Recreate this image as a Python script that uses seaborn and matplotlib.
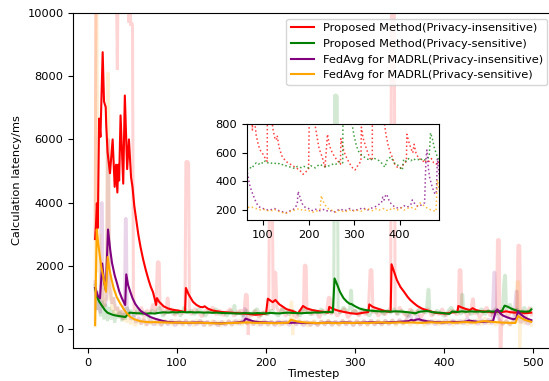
import matplotlib
matplotlib.use("Agg")
import matplotlib.pyplot as plt
import seaborn as sns
import pandas as pd

plt.rcParams['font.family'] = ['DejaVu Sans']
plt.rcParams['font.size'] = 8.2

# ---------------- smoothed series (x, y) ----------------
red_x = [8, 9, 10, 11, 12.5, 14, 16.5, 18, 19.9, 20.5, 22, 24.7, 27.7, 30, 31.5, 33, 34, 35, 36.6, 39.6, 41.4, 44, 46, 48.4,
         50, 52, 54, 56.5, 59, 62, 65, 68, 70.5, 73, 75, 76.5, 77.5, 80, 85, 90, 95, 100, 105, 109, 110, 113, 118, 122, 126,
         129, 131, 135, 141, 150, 160, 170, 180, 188, 195, 200, 202, 205, 207.5, 210.5, 215, 223, 230, 236, 241.5, 246, 252,
         260, 265, 270, 271, 275, 280, 286, 295, 302, 310, 315, 316, 320, 328, 335, 340, 341, 344, 347, 351, 355, 359, 362,
         366, 370, 375, 380, 385, 390, 395, 400, 405, 410, 415, 416, 420, 425, 429, 432, 436, 442, 450, 455, 460, 465, 470,
         475, 480, 485, 490, 495, 498]
red_y = [2850, 3300, 3980, 3200, 6660, 6080, 8760, 7200, 7020, 6450, 5600, 4930, 6000, 4500, 5200, 4320, 5200, 4700, 6760,
         4600, 7390, 5060, 6000, 4800, 4500, 3900, 3500, 3000, 2600, 2200, 1860, 1560, 1340, 1170, 950, 760, 980, 860, 720,
         650, 610, 590, 560, 540, 1300, 1100, 860, 760, 700, 690, 720, 640, 580, 540, 520, 500, 480, 450, 470, 490, 960, 900,
         850, 920, 780, 630, 570, 495, 730, 650, 600, 560, 540, 520, 700, 640, 590, 550, 500, 480, 520, 540, 780, 700, 620,
         560, 550, 2050, 1800, 1550, 1330, 1180, 1020, 920, 820, 730, 650, 600, 560, 515, 500, 490, 500, 530, 540, 730, 680,
         630, 600, 660, 600, 560, 550, 530, 550, 540, 560, 530, 520, 540, 500, 510, 520]

green_x = [8, 10, 13, 16, 19, 22, 26, 29, 35, 40, 42, 44, 47, 50, 55, 60, 65, 70, 75, 80, 85, 90, 95, 100, 105, 110, 115,
           120, 125, 130, 135, 140, 145, 150, 155, 160, 165, 170, 175, 180, 185, 190, 195, 200, 205, 210, 215, 220, 225,
           230, 235, 240, 245, 250, 255, 260, 265, 270, 275, 277, 280, 283, 287, 291, 294, 296, 300, 305, 310, 315, 320,
           325, 330, 335, 340, 345, 350, 355, 360, 365, 368, 372, 376, 380, 383, 388, 393, 398, 403, 406, 409, 415, 420,
           425, 430, 435, 440, 445, 450, 455, 460, 465, 468, 472, 476, 480, 484, 488, 492, 496, 498]
green_y = [1290, 1020, 850, 725, 600, 515, 470, 440, 410, 390, 380, 440, 520, 510, 500, 495, 485, 500, 490, 515, 530, 520,
           535, 525, 545, 530, 535, 525, 530, 520, 525, 515, 520, 510, 505, 500, 495, 490, 505, 500, 495, 505, 500, 495,
           510, 500, 495, 510, 520, 510, 505, 500, 510, 515, 525, 520, 535, 540, 530, 1600, 1400, 1180, 980, 860, 800, 790,
           720, 650, 610, 590, 575, 565, 555, 560, 550, 560, 555, 545, 530, 510, 500, 545, 560, 570, 560, 530, 520, 510,
           490, 480, 555, 540, 560, 545, 560, 550, 555, 545, 560, 550, 560, 570, 740, 700, 640, 600, 560, 555, 550, 560, 620]

purple_x = [8, 9.5, 11, 13.5, 16, 18, 20, 22.5, 25, 27, 30, 32.6, 35, 38, 41.8, 43, 45, 47.5, 50, 53, 56, 59, 63, 66.6, 70,
            75, 80, 85, 90, 95, 100, 105, 110, 115, 120, 125, 130, 135, 140, 145, 150, 155, 160, 165, 170, 175, 177, 180,
            184, 188, 192, 196, 200, 205, 210, 215, 220, 225, 230, 235, 240, 245, 250, 255, 260, 265, 270, 275, 280, 285,
            290, 295, 300, 305, 310, 315, 320, 325, 330, 335, 340, 345, 350, 355, 360, 363, 366, 369, 372, 375, 378, 382,
            386, 390, 395, 400, 405, 410, 415, 420, 425, 428, 432, 436, 440, 445, 450, 455, 458, 460, 463, 466, 470, 474,
            478, 481, 483, 486, 490, 494, 498]
purple_y = [1300, 1200, 1050, 970, 2075, 1500, 1230, 3150, 2500, 2090, 1700, 1450, 1200, 980, 760, 1730, 1400, 1180, 980,
            800, 680, 580, 500, 440, 380, 330, 290, 250, 225, 215, 210, 205, 200, 200, 205, 210, 200, 195, 190, 185, 180,
            190, 195, 200, 215, 240, 330, 300, 260, 230, 220, 215, 210, 200, 195, 205, 200, 195, 200, 205, 195, 190, 195,
            185, 190, 200, 205, 200, 195, 205, 210, 200, 195, 200, 205, 210, 215, 205, 200, 210, 215, 220, 230, 240, 250,
            290, 270, 300, 310, 280, 260, 240, 230, 220, 215, 210, 220, 230, 220, 225, 240, 270, 250, 235, 225, 230, 240,
            250, 560, 620, 500, 430, 380, 340, 310, 330, 560, 470, 380, 320, 280]

orange_x = [8, 9.8, 11.5, 13.5, 15, 17.2, 20.2, 22.1, 24, 26.6, 29, 32.2, 36, 39.7, 43, 47.2, 52, 58.4, 65, 70, 75, 80, 85,
            90, 95, 100, 105, 110, 115, 120, 125, 130, 135, 140, 145, 150, 155, 160, 165, 170, 175, 180, 185, 190, 195, 200,
            205, 210, 215, 220, 225, 228, 231, 235, 240, 245, 250, 255, 260, 265, 270, 275, 280, 285, 290, 295, 300, 305,
            310, 315, 320, 325, 330, 335, 340, 345, 350, 355, 360, 365, 370, 375, 380, 385, 390, 395, 400, 405, 410, 415,
            420, 425, 430, 435, 440, 445, 450, 455, 460, 465, 470, 475, 480, 483, 486, 490, 494, 498]
orange_y = [125, 3150, 2700, 2280, 1950, 1650, 1180, 2280, 1900, 1550, 1280, 1020, 820, 650, 520, 390, 310, 250, 225, 215,
            220, 215, 210, 205, 200, 205, 200, 195, 200, 195, 205, 195, 190, 185, 180, 175, 185, 190, 195, 200, 205, 210,
            200, 195, 200, 195, 190, 185, 190, 195, 200, 300, 270, 240, 220, 205, 200, 190, 185, 195, 200, 190, 185, 195,
            200, 190, 195, 200, 195, 190, 200, 205, 210, 200, 195, 205, 210, 200, 205, 210, 200, 195, 205, 215, 205, 200,
            210, 215, 200, 205, 215, 220, 210, 205, 230, 250, 240, 225, 215, 205, 200, 195, 190, 410, 360, 300, 260, 230]

# ---------------- raw series (x, y) ----------------
red_raw_x = list(range(8, 53)) + [
    56, 60, 63, 66, 70, 73, 76, 78, 79, 80, 81, 83, 86, 88, 89, 90, 91, 95, 98, 102, 106, 109, 110, 111, 112, 113, 114,
    116, 120, 124, 128, 132, 136, 140, 144, 148, 152, 156, 160, 164, 168, 172, 175, 177, 178, 179, 180, 181, 184, 188,
    192, 196, 200, 203, 204, 205, 206, 207, 208, 209, 210, 211, 212, 214, 218, 222, 226, 230, 234, 238, 242, 243, 244,
    245, 246, 248, 252, 256, 260, 264, 268, 270, 271, 272, 273, 276, 280, 284, 288, 292, 296, 300, 304, 308, 312, 315,
    317, 318, 319, 320, 322, 326, 330, 334, 338, 340, 341, 342, 343, 344, 345, 347, 350, 354, 358, 362, 366, 370, 374,
    378, 382, 386, 390, 394, 398, 402, 406, 410, 414, 416, 417, 418, 419, 420, 422, 426, 430, 432, 433, 434, 436, 440,
    444, 448, 452, 456, 459, 460, 461, 462, 463, 464, 465, 468, 472, 476, 480, 482, 483, 484, 485, 486, 488, 492, 496, 498]
red_raw_y = [2850, 11000, 10500, 13000, 10500, 14000, 11500, 12000, 15000, 11000, 13000, 10800, 12500, 14000, 10500, 12000,
             11000, 13000, 11500, 14000, 10600, 12000, 10800, 13500, 11000, 8200, 12000, 14000, 11000, 13000, 10500, 12000,
             10800, 14000, 11500, 13000, 10900, 12000, 9700, 11000, 9600, 9700, 9600, 1200, 600,
             450, 700, 380, 600, 520, 800, 500, 2130, 2130, 2100, 600, 700, 450, 600, 980, 980, 500, 650, 420, 600, 480,
             550, 5300, 5300, 5300, 5250, 600, 450, 650, 520, 380, 600, 500, 700, 450, 600, 420, 550, 650, 400, 550, 600,
             450, 1100, 1100, 1050, -190, 500, 400, 600, 350, 550, 450, 500, 5000, 5000, 5000, 4950, 600, 1800, 1800, 1780,
             700, 550, 650, 400, 600, 500, 350, 600, 500, 2020, 2020, 2000, 550, 650, 450, 550, 350, 600, 500, 1000, 1000,
             980, 450, 600, 400, 550, 650, 350, 500, 600, 400, 550, 450, 600, 1880, 1880, 1860, 500, 650, 400, 550, 450,
             600, 700, 11000, 11000, 11000, 11000, 600, 450, 700, 500, 400, 650, 450, 600, 350, 550, 650, 400, 550, 450,
             650, 400, 550, 600, 450, 500, 1880, 1880, 1860, 500, 650, 400, 550, 960, 950, 450, 600, 350, 550, 700, 400,
             600, 450, 2830, 2830, 2830, -700, -700, 500, 600, 350, 650, 450, 500, 2650, 2650, 2650, 400, 600, 350, 700,
             450]

green_raw_x = [8, 10, 12, 14, 16, 18, 20, 22, 24, 26, 28, 30, 32, 34, 36, 38, 40, 42, 44, 46, 48, 52, 56, 60, 64, 68, 72,
               76, 80, 84, 88, 92, 96, 100, 104, 108, 112, 116, 120, 124, 128, 132, 136, 140, 144, 148, 152, 156, 160,
               163, 164, 165, 166, 170, 174, 178, 182, 186, 190, 194, 198, 202, 206, 210, 214, 218, 222, 226, 230, 234,
               238, 242, 246, 250, 254, 258, 262, 266, 270, 274, 276, 277, 278, 279, 280, 281, 283, 287, 291, 294, 295,
               296, 297, 300, 304, 308, 312, 316, 320, 324, 328, 332, 336, 340, 344, 348, 352, 356, 360, 364, 368, 372,
               376, 380, 382, 383, 384, 388, 392, 396, 400, 404, 408, 412, 416, 419, 420, 421, 422, 426, 430, 434, 438,
               442, 446, 450, 454, 458, 462, 466, 467, 468, 469, 470, 474, 478, 482, 486, 490, 494, 498]
green_raw_y = [1400, 600, 1100, 400, 900, 300, 800, 250, 700, 300, 600, 200, 500, 350, 550, 250, 500, 300, 700, 450, 600,
               400, 650, 450, 550, 350, 600, 500, 700, 400, 550, 650, 450, 600, 400, 700, 500, 600, 450, 650, 550, 400,
               600, 500, 650, 450, 550, 400, 600, 500, 750, 750, 450, 550, 400, 600, 450, 550, 650, 400, 550, 450, 600,
               500, 400, 650, 550, 450, 600, 500, 400, 650, 550, 450, 600, 500, 650, 450, 600, 500, 700, 7400, 7400,
               7400, 7350, 600, 500, 700, 550, 650, 1230, 1230, 500, 600, 450, 650, 550, 400, 600, 500, 650, 450, 600,
               500, 650, 450, 600, 500, 400, 600, 450, 650, 550, 500, 1260, 1260, 600, 450, 600, 500, 400, 550, 700, 500,
               600, 450, 1100, 1100, 500, 650, 450, 600, 500, 650, 450, 600, 500, 650, 450, 700, 1400, 1700, 1700, 600,
               800, 500, 650, 450, 700, 500, 650]

orange_raw_x = list(range(8, 31)) + [
    32, 34, 36, 38, 40, 42, 44, 46, 48, 50, 53, 56, 59, 62, 65, 68, 71, 74, 77, 80, 83, 86, 89, 92, 95, 98, 101, 104,
    107, 110, 113, 116, 119, 122, 125, 128, 131, 134, 137, 140, 143, 146, 149, 152, 155, 158, 161, 164, 167, 170, 173,
    176, 179, 182, 185, 188, 191, 194, 197, 200, 203, 206, 209, 212, 215, 218, 221, 224, 227, 228, 229, 230, 231, 234,
    237, 240, 243, 246, 250, 254, 258, 262, 266, 270, 274, 278, 282, 286, 290, 294, 298, 302, 306, 310, 314, 318, 322,
    326, 330, 334, 338, 342, 346, 350, 354, 358, 362, 366, 370, 374, 378, 382, 386, 390, 394, 398, 402, 406, 410, 414,
    418, 422, 426, 430, 434, 438, 442, 446, 450, 454, 458, 462, 466, 470, 474, 478, 481, 482, 483, 484, 485, 486, 490,
    494, 498]
orange_raw_y = [100, 10500, 10500, 5000, 1800, 3000, 1200, 2000, 900, 1500, 700, 1200, 900, 2000, 8100, 8100, 1200, 900,
                1400, 600, 1000, 500, 800,
                400, 700, 350, 600, 250, 500, 200, 400, 150, 350, 100, 300, 150, 350, 100, 300, 150, 320, 120, 280, 100,
                300, 150, 270, 110, 300, 130, 280, 100, 300, 150, 260, 90, 300, 140, 270, 100, 250, 90, 280, 110, 250, 80,
                260, 120, 290, 100, 280, 130, 300, 110, 290, 140, 300, 120, 270, 100, 280, 130, 260, 100, 270, 120, 250,
                90, 280, 130, 260, 200, 860, 860, -190, 300, 150, 320, 120, 270, 100, 120, 280, 100, 270, 130, 290, 110,
                260, 90, 280, 140, 270, 100, 290, 120, 260, 100, 280, 130, 300, 110, 270, 140, 290, 100, 280, 130, 300,
                110, 270, 140, 290, 100, 280, 150, 300, 120, 270, 140, 310, 110, 280, 150, 300, 120, 290, 140, 320, 130,
                360, 150, 300, 110, 280, 130, 270, 100, 280, 200, 1500, 1500, 1500, -700, 400, 150, 350, 120]

purple_raw_x = [8, 9, 10, 12, 14, 15, 16, 17, 19, 21, 22, 23, 24, 25, 27, 29, 31, 33, 35, 37, 39, 41, 42, 43, 44, 46, 48,
                51, 54, 57, 60, 63, 66, 70, 74, 78, 82, 86, 90, 94, 98, 102, 106, 110, 114, 118, 122, 126, 130, 134, 138,
                142, 146, 150, 154, 158, 162, 166, 170, 174, 176, 177, 178, 182, 186, 190, 194, 198, 202, 206, 210, 214,
                218, 222, 226, 230, 234, 238, 242, 246, 250, 254, 258, 262, 266, 270, 274, 278, 282, 286, 290, 294, 298,
                302, 306, 310, 314, 318, 322, 326, 330, 334, 338, 342, 346, 350, 354, 358, 362, 366, 370, 374, 378, 382,
                386, 390, 394, 398, 402, 406, 410, 414, 418, 422, 426, 430, 434, 438, 442, 446, 450, 454, 456, 457, 458,
                462, 466, 470, 474, 478, 481, 482, 483, 486, 490, 494, 498]
purple_raw_y = [1500, 600, 1200, 700, 500, 4000, 4000, 900, 700, 1000, 6000, 6000, 1500, 1200, 800, 1000, 600, 700, 400,
                600, 300, 500, 3500, 3500, 700, 500, 300, 450, 200, 380, 150, 320, 120, 300, 120, 280, 110, 260, 130, 290,
                100, 270, 140, 280, 110, 260, 130, 290, 100, 250, 120, 260, 90, 250, 110, 270, 120, 280, 150, 300, 650,
                650, 150, 300, 130, 270, 110, 280, 120, 250, 100, 270, 130, 260, 110, 280, 120, 260, 100, 250, 110, 240,
                100, 260, 120, 280, 110, 250, 130, 280, 120, 260, 100, 270, 120, 280, 130, 290, 120, 260, 130, 290, 140,
                300, 150, 310, 160, 330, 450, 180, 420, 200, 300, 150, 280, 130, 270, 150, 300, 140, 290, 160, 280, 150,
                350, 170, 290, 140, 300, 160, 320, 150, 1800, 1800, 500, 300, 150, 280, 130, 260, 1200, 1200, 400, 200,
                300, 150, 250]

labels = ["Proposed Method(Privacy-insensitive)", "Proposed Method(Privacy-sensitive)",
          "FedAvg for MADRL(Privacy-insensitive)", "FedAvg for MADRL(Privacy-sensitive)"]
colors = ["red", "green", "purple", "orange"]

smooth = [(red_x, red_y), (green_x, green_y), (purple_x, purple_y), (orange_x, orange_y)]
raw = [(red_raw_x, red_raw_y), (green_raw_x, green_raw_y), (purple_raw_x, purple_raw_y), (orange_raw_x, orange_raw_y)]

fig = plt.figure(figsize=(5.49, 3.81), dpi=100)
ax = fig.add_axes([0.1335, 0.0866, 0.874, 0.8793])

for (xs, ys), c in zip(raw, colors):
    df = pd.DataFrame({"x": xs, "y": ys})
    sns.lineplot(data=df, x="x", y="y", ax=ax, color=c, alpha=0.17, lw=2.2,
                 estimator=None, sort=True, legend=False, solid_joinstyle="bevel")

for (xs, ys), c, lab in zip(smooth, colors, labels):
    df = pd.DataFrame({"x": xs, "y": ys})
    sns.lineplot(data=df, x="x", y="y", ax=ax, color=c, lw=1.5, label=lab,
                 estimator=None, sort=True)

ax.set_xlim(-16.5, 522.5)
ax.set_ylim(-600, 10000)
ax.set_xticks([0, 100, 200, 300, 400, 500])
ax.set_yticks([0, 2000, 4000, 6000, 8000, 10000])
ax.set_xlabel("Timestep", labelpad=1)
ax.set_ylabel("Calculation latency/ms")
ax.legend(loc="upper right", fontsize=8.2)

# inset
axin = fig.add_axes([0.4494, 0.4226, 0.3497, 0.2512])
axin.set_zorder(5)
axin.set_facecolor("white")
for (xs, ys), c in zip(smooth, colors):
    df = pd.DataFrame({"x": xs, "y": ys})
    sns.lineplot(data=df, x="x", y="y", ax=axin, color=c, lw=1.1, ls=":", alpha=0.75,
                 estimator=None, sort=True, legend=False)
axin.set_xlim(64, 486)
axin.set_ylim(130, 800)
axin.set_xticks([100, 200, 300, 400])
axin.set_yticks([200, 400, 600, 800])
axin.set_xlabel("")
axin.set_ylabel("")

fig.savefig("out.png", dpi=100)
